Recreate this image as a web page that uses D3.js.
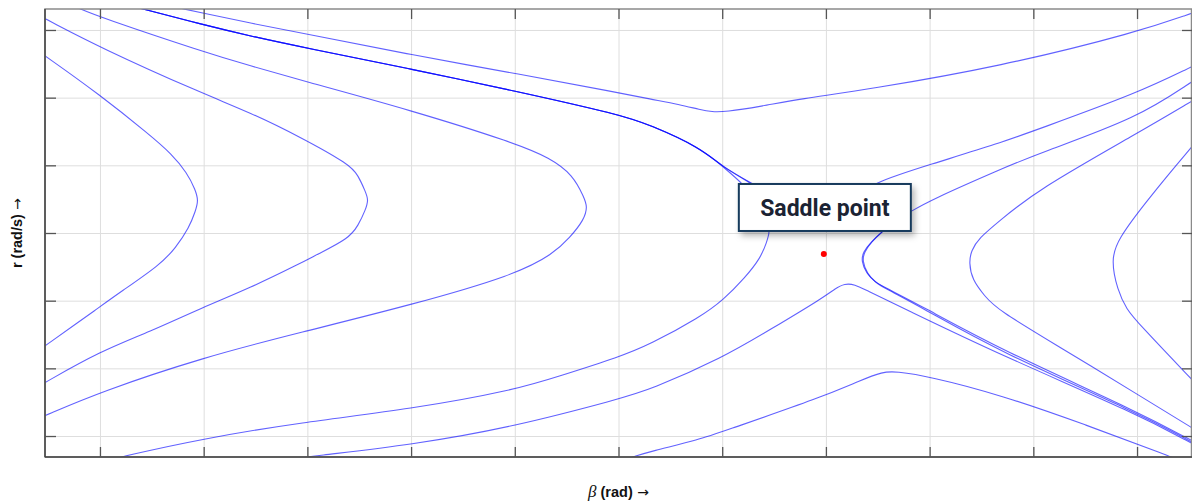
<!DOCTYPE html>
<html>
<head>
<meta charset="utf-8">
<script src="https://cdn.jsdelivr.net/npm/d3@7"></script>
<style>
  body { margin: 0; background: #fff; }
</style>
</head>
<body>
<div id="chart"></div>
<script>
// Phase portrait of beta / r around a saddle point.
// Trajectories as [beta, r] pairs.

var betaTicks = [-5, -4, -3, -2, -1, 0, 1, 2, 3, 4, 5];
var rTicks = [-3, -2, -1, 0, 1, 2, 3];

var saddle = [1.98, -0.31];
var saddleLabel = "Saddle point";

// left side, nested "C" shapes
var traj1 = [[-5.63, 2.72], [-5.53, 2.62], [-5.00, 2.04], [-4.52, 1.45], [-4.31, 1.17], [-4.16, 0.89],
  [-4.08, 0.64], [-4.05, 0.48], [-4.08, 0.32], [-4.14, 0.08], [-4.27, -0.22], [-4.42, -0.47],
  [-4.81, -0.88], [-5.00, -1.09], [-5.53, -1.67], [-5.63, -1.77]];
var traj2 = [[-5.63, 3.24], [-5.53, 3.17], [-5.00, 2.74], [-4.01, 2.06], [-3.55, 1.78], [-3.07, 1.42],
  [-2.59, 1.01], [-2.51, 0.85], [-2.44, 0.61], [-2.41, 0.49], [-2.44, 0.34], [-2.51, 0.11],
  [-2.60, -0.08], [-2.91, -0.32], [-3.07, -0.45], [-3.55, -0.81], [-4.01, -1.10],
  [-4.52, -1.46], [-5.00, -1.75], [-5.53, -2.21], [-5.63, -2.30]];
var traj3 = [[-5.29, 3.38], [-5.19, 3.31], [-5.00, 3.19], [-4.01, 2.68], [-3.55, 2.47], [-3.07, 2.26],
  [-1.99, 1.81], [-1.00, 1.33], [-0.66, 1.11], [-0.44, 0.86], [-0.33, 0.52], [-0.30, 0.39],
  [-0.33, 0.20], [-0.47, -0.07], [-0.63, -0.31], [-1.00, -0.62], [-1.99, -1.06], [-3.07, -1.47],
  [-4.01, -1.84], [-5.00, -2.35], [-5.53, -2.70], [-5.63, -2.76]];

// top trajectory, dipping over the saddle region
var trajTop = [[-4.33, 3.36], [-4.19, 3.31], [-4.01, 3.25], [-3.55, 3.10], [-3.00, 2.94], [-1.99, 2.63],
  [-1.00, 2.36], [0.01, 2.07], [0.30, 1.98], [0.59, 1.90], [0.79, 1.82], [0.90, 1.79], [1.03, 1.79],
  [1.37, 1.87], [1.75, 1.98], [2.40, 2.12], [3.68, 2.46], [5.01, 2.97], [5.53, 3.25], [5.63, 3.30]];

// bundle coming from the top left towards the saddle
var bundleHead = [[-4.71, 3.36], [-4.585, 3.31], [-4.01, 3.08], [-3.55, 2.91], [-3.00, 2.73],
  [-1.99, 2.42], [-1.00, 2.10], [0.01, 1.75], [0.30, 1.60], [0.79, 1.26]];
var traj4 = bundleHead.concat([[1.00, 0.99], [1.22, 0.70], [1.37, 0.42], [1.44, 0.20], [1.46, 0.02],
  [1.43, -0.13], [1.37, -0.37], [1.22, -0.66], [1.01, -0.99], [0.79, -1.24], [0.30, -1.65],
  [0.01, -1.83], [-0.56, -2.11], [-1.00, -2.32], [-1.99, -2.60], [-3.07, -2.80], [-4.01, -3.04],
  [-4.78, -3.30], [-4.90, -3.36]]);
var traj5 = bundleHead.concat([[1.00, 0.98], [1.29, 0.73], [1.65, 0.42], [1.94, 0.32], [2.23, 0.49],
  [2.45, 0.74], [3.00, 1.01], [3.68, 1.33], [4.04, 1.53], [5.01, 2.07], [5.53, 2.46], [5.63, 2.53]]);
// third bundle line fades out behind the label
var traj6 = bundleHead.concat([[1.01, 0.965], [1.32, 0.70], [1.60, 0.40], [1.85, 0.30]]);

// from the top right, bending under the saddle to the lower right
var trajB = [[5.63, 2.33], [5.53, 2.24], [5.01, 1.70], [4.04, 1.17], [3.68, 0.94], [3.00, 0.48],
  [2.82, 0.32], [2.67, 0.18], [2.55, 0.03], [2.43, -0.14], [2.36, -0.28], [2.34, -0.41], [2.39, -0.60],
  [2.47, -0.72], [2.55, -0.79], [2.91, -1.07], [3.68, -1.72], [5.01, -2.64], [5.53, -3.07], [5.63, -3.15]];
// companion line, appears from behind the label
var trajB2 = [[2.70, 0.22], [2.62, 0.12], [2.55, 0.03], [2.44, -0.13], [2.37, -0.28], [2.35, -0.41], [2.40, -0.61],
  [2.48, -0.73], [2.56, -0.81], [2.91, -1.09], [3.68, -1.76], [5.01, -2.66], [5.53, -3.09], [5.63, -3.17]];

// from the bottom, peaking just below the saddle
var traj7 = [[-3.17, -3.35], [-2.975, -3.30], [-1.99, -3.13], [-1.00, -2.86], [0.01, -2.45],
  [0.30, -2.32], [1.01, -1.84], [1.46, -1.43], [1.97, -0.96], [2.09, -0.82], [2.18, -0.745],
  [2.28, -0.76], [2.38, -0.84], [2.72, -1.09], [3.68, -1.80], [5.01, -2.68], [5.53, -3.11], [5.63, -3.19]];
var traj8 = [[0.06, -3.35], [0.16, -3.30], [0.30, -3.23], [0.79, -3.05], [1.01, -2.93], [1.97, -2.42],
  [2.33, -2.18], [2.55, -2.05], [2.67, -2.045], [3.00, -2.12], [3.68, -2.39], [4.50, -2.83],
  [5.32, -3.30], [5.41, -3.36]];

// right side "C" shapes
var traj9 = [[5.63, 2.04], [5.53, 1.95], [5.01, 1.48], [4.04, 0.64], [3.65, 0.15], [3.48, -0.07],
  [3.40, -0.26], [3.38, -0.44], [3.41, -0.69], [3.53, -0.93], [3.65, -1.13], [4.26, -1.69],
  [5.01, -2.39], [5.53, -2.88], [5.63, -2.97]];
var traj10 = [[5.63, 1.45], [5.53, 1.28], [5.10, 0.49], [4.81, -0.10], [4.75, -0.40], [4.81, -0.84],
  [4.90, -1.13], [5.01, -1.33], [5.53, -2.17], [5.63, -2.32]];

var trajectories = [traj1, traj2, traj3, trajTop, traj4, traj5, traj6, trajB, trajB2, traj7, traj8, traj9, traj10];

var svgWidth = 1192;
var svgHeight = 503;

var margin = {
  top: 9,
  right: 0,
  bottom: 46,
  left: 45
};

var chartWidth = svgWidth - margin.left - margin.right;
var chartHeight = svgHeight - margin.top - margin.bottom;

var svg = d3.select("#chart")
  .append("svg")
  .attr("width", svgWidth)
  .attr("height", svgHeight)
  .style("display", "block");

var defs = svg.append("defs");
defs.append("clipPath")
  .attr("id", "plot-clip")
  .append("rect")
  .attr("width", chartWidth)
  .attr("height", chartHeight);

var shadow = defs.append("filter")
  .attr("id", "box-shadow")
  .attr("x", "-20%").attr("y", "-30%")
  .attr("width", "150%").attr("height", "180%");
shadow.append("feDropShadow")
  .attr("dx", 3).attr("dy", 4)
  .attr("stdDeviation", 3)
  .attr("flood-color", "#000")
  .attr("flood-opacity", 0.28);

var chartGroup = svg.append("g")
  .attr("transform", `translate(${margin.left}, ${margin.top})`);

var xScale = d3.scaleLinear()
  .domain([-5.53, 5.53])
  .range([0, chartWidth]);

var yScale = d3.scaleLinear()
  .domain([-3.31, 3.31])
  .range([chartHeight, 0]);

// grid
chartGroup.append("g")
  .attr("class", "grid")
  .attr("transform", `translate(0, ${chartHeight})`)
  .call(d3.axisBottom(xScale).tickValues(betaTicks).tickSize(-chartHeight).tickFormat(""));

chartGroup.append("g")
  .attr("class", "grid")
  .call(d3.axisLeft(yScale).tickValues(rTicks).tickSize(-chartWidth).tickFormat(""));

chartGroup.selectAll(".grid .domain").remove();
chartGroup.selectAll(".grid line")
  .attr("stroke", "#dedede")
  .attr("stroke-width", 1);

// trajectories
var line = d3.line()
  .x(d => xScale(d[0]))
  .y(d => yScale(d[1]))
  .curve(d3.curveBasis);

chartGroup.append("g")
  .attr("clip-path", "url(#plot-clip)")
  .selectAll("path")
  .data(trajectories)
  .enter()
  .append("path")
  .attr("d", line)
  .attr("fill", "none")
  .attr("stroke", "#0000ff")
  .attr("stroke-opacity", 0.62)
  .attr("stroke-width", 1.1);

// frame and inward ticks
chartGroup.append("rect")
  .attr("width", chartWidth - 0.5)
  .attr("height", chartHeight)
  .attr("fill", "none")
  .attr("stroke", "#8a8a8a")
  .attr("stroke-width", 1.5);

chartGroup.append("line")
  .attr("x1", 0).attr("x2", 0)
  .attr("y1", 0).attr("y2", chartHeight)
  .attr("stroke", "#444").attr("stroke-width", 1.5);
chartGroup.append("line")
  .attr("x1", 0).attr("x2", chartWidth)
  .attr("y1", chartHeight).attr("y2", chartHeight)
  .attr("stroke", "#444").attr("stroke-width", 1.5);

var tickAxes = [
  chartGroup.append("g").attr("transform", `translate(0, ${chartHeight})`)
    .call(d3.axisBottom(xScale).tickValues(betaTicks).tickSizeInner(-10).tickSizeOuter(0).tickFormat("")),
  chartGroup.append("g")
    .call(d3.axisTop(xScale).tickValues(betaTicks).tickSizeInner(-10).tickSizeOuter(0).tickFormat("")),
  chartGroup.append("g")
    .call(d3.axisLeft(yScale).tickValues(rTicks).tickSizeInner(-11).tickSizeOuter(0).tickFormat("")),
  chartGroup.append("g").attr("transform", `translate(${chartWidth}, 0)`)
    .call(d3.axisRight(yScale).tickValues(rTicks).tickSizeInner(-10).tickSizeOuter(0).tickFormat(""))
];
tickAxes.forEach(function(g) {
  g.select(".domain").remove();
  g.selectAll("line").attr("stroke", "#555").attr("stroke-width", 1.3);
});

// saddle point and its label
chartGroup.append("circle")
  .attr("cx", xScale(saddle[0]))
  .attr("cy", yScale(saddle[1]))
  .attr("r", 3)
  .attr("fill", "#ff0000");

var boxW = 172;
var boxH = 47;
var labelGroup = chartGroup.append("g")
  .attr("transform", `translate(${xScale(saddle[0]) + 1}, ${yScale(saddle[1]) - 46.5})`);

labelGroup.append("rect")
  .attr("x", -boxW / 2)
  .attr("y", -boxH / 2)
  .attr("width", boxW)
  .attr("height", boxH)
  .attr("fill", "#fff")
  .attr("stroke", "#163a5c")
  .attr("stroke-width", 2)
  .attr("filter", "url(#box-shadow)");

labelGroup.append("text")
  .attr("text-anchor", "middle")
  .attr("dy", "0.35em")
  .attr("font-family", "Roboto, 'Noto Sans', sans-serif")
  .attr("font-weight", 700)
  .attr("font-size", "23px")
  .attr("fill", "#1b2333")
  .text(saddleLabel);

// axis labels
var yLabel = svg.append("text")
  .attr("transform", `translate(22, ${margin.top + chartHeight / 2}) rotate(-90)`)
  .attr("text-anchor", "middle")
  .attr("font-family", "'Liberation Sans', Arial, sans-serif")
  .attr("font-size", "14.5px")
  .attr("fill", "#111");
yLabel.append("tspan").attr("font-weight", 700).text("r (rad/s)");
yLabel.append("tspan").attr("font-family", "'DejaVu Sans', sans-serif").attr("font-size", "14px").text(" \u2192");

var xLabel = svg.append("text")
  .attr("x", margin.left + chartWidth / 2)
  .attr("y", 497)
  .attr("text-anchor", "middle")
  .attr("font-family", "'Liberation Sans', Arial, sans-serif")
  .attr("font-size", "14.5px")
  .attr("fill", "#111");
xLabel.append("tspan")
  .attr("font-family", "'Liberation Serif', 'DejaVu Serif', serif")
  .attr("font-style", "italic")
  .attr("font-size", "17px")
  .text("\u03b2");
xLabel.append("tspan").attr("font-weight", 700).text(" (rad)");
xLabel.append("tspan").attr("font-family", "'DejaVu Sans', sans-serif").attr("font-size", "14px").text(" \u2192");
</script>
</body>
</html>
